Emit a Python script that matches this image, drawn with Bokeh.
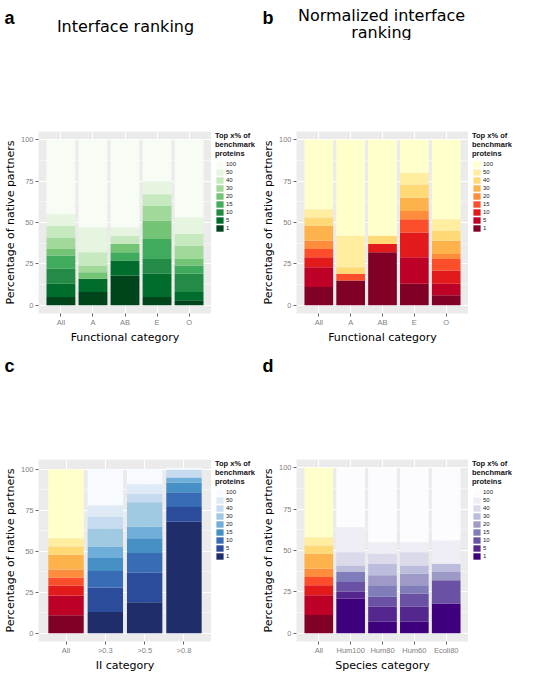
from bokeh.plotting import figure
from bokeh.models import (ColumnDataSource, Range1d, FactorRange, FixedTicker,
                          Legend, LegendItem)
from bokeh.layouts import row, column
from bokeh.embed import file_html
from bokeh.resources import INLINE
from bokeh.core.properties import value

# ---------------- data (cumulative % of native partners per level) -------------
levels = ["1", "5", "10", "15", "20", "30", "40", "50", "100"]

a_categories = ["All", "A", "AB", "E", "O"]
a_all = [5, 13, 22, 30, 34, 41, 48, 55, 100]
a_a = [8, 16, 16, 16, 20, 24, 32, 47, 100]
a_ab = [18, 27, 27, 32, 37, 37, 42, 47, 100]
a_e = [5, 19, 28, 40, 51, 60, 67, 75, 100]
a_o = [3, 8, 19, 24, 28, 36, 43, 53, 100]

b_categories = ["All", "A", "AB", "E", "O"]
b_all = [11, 23, 29, 34, 39, 48, 53, 58, 100]
b_a = [15, 15, 15, 19, 19, 19, 23, 42, 100]
b_ab = [32, 32, 37, 37, 37, 37, 42, 42, 100]
b_e = [13, 29, 44, 52, 57, 65, 73, 80, 100]
b_o = [6, 13, 21, 28, 31, 39, 45, 52, 100]

c_categories = ["All", ">0.3", ">0.5", ">0.8"]
c_all = [11, 23, 29, 34, 39, 48, 53, 58, 100]
c_03 = [13, 28, 38, 46, 53, 64, 71, 78, 100]
c_05 = [19, 37, 49, 58, 65, 80, 85, 91, 100]
c_08 = [68, 77, 86, 92, 95, 95, 100, 100, 101]

d_categories = ["All", "Hum100", "Hum80", "Hum60", "Ecoli80"]
d_all = [11, 23, 29, 34, 39, 48, 53, 58, 100]
d_hum100 = [21, 25, 31, 37, 37, 41, 49, 64, 100]
d_hum80 = [7, 16, 22, 29, 35, 42, 48, 55, 100]
d_hum60 = [7, 16, 24, 29, 36, 41, 49, 55, 100]
d_ecoli80 = [18, 18, 32, 32, 37, 42, 42, 56, 100]

greens = ['#00441b', '#006d2c', '#238b45', '#41ab5d', '#74c476',
          '#a1d99b', '#c7e9c0', '#e5f5e0', '#f7fcf5']
ylorrd = ['#800026', '#bd0026', '#e31a1c', '#fc4e2a', '#fd8d3c',
          '#feb24c', '#fed976', '#ffeda0', '#ffffcc']
blues = ['#1f2e6b', '#2b4c9b', '#386db5', '#4790c6', '#6eaed8',
         '#9fcae1', '#c6dbef', '#deebf7', '#f7fbff']
purples = ['#3f007d', '#54278f', '#6a51a3', '#807dba', '#9e9ac8',
           '#bcbddc', '#dadaeb', '#efedf5', '#fcfbfd']

SANS = "DejaVu Sans"
HELV = "Liberation Sans"


def blank(width, height, top=0, left=0):
    f = figure(width=width, height=height, x_range=Range1d(0, 1),
               y_range=Range1d(0, 1), x_axis_type=None, y_axis_type=None,
               min_border_left=left, min_border_right=0,
               min_border_top=top, min_border_bottom=0,
               toolbar_location=None, tools="", output_backend="svg")
    f.grid.visible = False
    f.outline_line_color = None
    f.background_fill_color = "white"
    f.border_fill_color = "white"
    return f


def header(width, height, letter, letter_base, titles):
    """Strip above a panel holding the panel letter and the panel title."""
    h = figure(width=width, height=height, x_range=Range1d(0, width),
               y_range=Range1d(0, height), x_axis_type=None, y_axis_type=None,
               min_border=0, toolbar_location=None, tools="",
               output_backend="svg")
    h.grid.visible = False
    h.outline_line_color = None
    h.background_fill_color = "white"
    h.border_fill_color = "white"
    h.text(x=[4], y=[height - letter_base], text=[letter],
           text_font=value(HELV), text_font_style="bold",
           text_font_size="18px", text_color="black",
           text_align="left", text_baseline="alphabetic")
    if titles:
        h.text(x=[t[1] for t in titles], y=[height - t[2] for t in titles],
               text=[t[0] for t in titles], text_font=value(SANS),
               text_font_size="16px", text_color="black",
               text_align="center", text_baseline="alphabetic")
    return h


def legend_strip(width, height, top, pal):
    """Narrow strip to the right of a panel that holds its colour key."""
    f = blank(width, height, top=top, left=4)
    items = []
    for i, lev in enumerate(levels):
        # zero-size bar: only there so the key can show the level's colour
        r = f.vbar(x=[0], bottom=[0], top=[0], width=0,
                   fill_color=pal[i], line_color=None)
        items.append(LegendItem(label=lev, renderers=[r]))
    legend = Legend(items=items[::-1], location="top_left",
                    title="Top x% of\nbenchmark\nproteins",
                    title_text_font=HELV, title_text_font_style="bold",
                    title_text_font_size="7.5px", title_standoff=2,
                    title_text_color="#111111",
                    glyph_width=9, glyph_height=8, label_height=8,
                    spacing=0, padding=0, margin=0,
                    label_standoff=2, label_text_font=HELV,
                    label_text_font_size="6px", label_text_color="#222222",
                    border_line_color=None, background_fill_alpha=0)
    f.add_layout(legend)
    return f


def make_panel(cats, series, pal, all_pal, xtitle, width, height, left, top,
               y_end):
    p = figure(x_range=FactorRange(factors=cats, range_padding=0.2,
                                   range_padding_units="absolute"),
               y_range=Range1d(-5, y_end), width=width, height=height,
               min_border_left=left, min_border_right=0,
               min_border_top=top, min_border_bottom=27,
               toolbar_location=None, tools="", output_backend="svg")
    p.background_fill_color = "#ebebeb"
    p.border_fill_color = "white"
    p.outline_line_color = None
    p.grid.grid_line_color = "white"
    p.grid.grid_line_width = 1
    p.yaxis.ticker = FixedTicker(ticks=[0, 25, 50, 75, 100],
                                 minor_ticks=[12.5, 37.5, 62.5, 87.5])
    p.ygrid.minor_grid_line_color = "white"
    p.ygrid.minor_grid_line_width = 0.5
    p.axis.axis_line_color = None
    p.axis.major_tick_line_color = "#666666"
    p.axis.major_tick_out = 3
    p.axis.major_tick_in = 0
    p.axis.minor_tick_line_color = None
    p.axis.major_label_text_font = HELV
    p.axis.major_label_text_font_size = "7.5px"
    p.axis.major_label_text_color = "#7f7f7f"
    p.axis.major_label_standoff = 1
    p.axis.axis_label_text_font = SANS
    p.axis.axis_label_text_font_size = "11px"
    p.axis.axis_label_text_font_style = "normal"
    p.axis.axis_label_text_color = "black"
    p.axis.axis_label_standoff = 1
    p.yaxis.axis_label = "Percentage of native partners"
    p.xaxis.axis_label = xtitle

    main = [c for c in cats if not (all_pal is not None and c == "All")]
    for i, lev in enumerate(levels):
        src = ColumnDataSource(dict(
            x=main,
            bottom=[series[c][i - 1] if i else 0 for c in main],
            top=[series[c][i] for c in main]))
        p.vbar(x="x", bottom="bottom", top="top", width=0.9, source=src,
               fill_color=pal[i], line_color=None)
        if all_pal is not None:
            p.vbar(x=["All"], bottom=[series["All"][i - 1] if i else 0],
                   top=[series["All"][i]], width=0.9,
                   fill_color=all_pal[i], line_color=None)
    return p


ha = header(258, 40, "a", 17, [("Interface ranking", 125, 26)])
hb = header(259, 40, "b", 17, [("Normalized interface", 123, 15),
                                ("ranking", 123, 32)])
pa = make_panel(a_categories,
                {"All": a_all, "A": a_a, "AB": a_ab, "E": a_e, "O": a_o},
                greens, None, "Functional category", 211, 306, 31, 4, 105)
la = legend_strip(47, 306, 91, greens)
pb = make_panel(b_categories,
                {"All": b_all, "A": b_a, "AB": b_ab, "E": b_e, "O": b_o},
                ylorrd, None, "Functional category", 210, 306, 30, 4, 105)
lb = legend_strip(49, 306, 91, ylorrd)

hc = header(258, 26, "c", 19, [])
hd = header(259, 26, "d", 19, [])
pc = make_panel(c_categories,
                {"All": c_all, ">0.3": c_03, ">0.5": c_05, ">0.8": c_08},
                blues, ylorrd, "II category", 211, 302, 31, 0, 106.05)
lc = legend_strip(47, 302, 87, blues)
pd = make_panel(d_categories,
                {"All": d_all, "Hum100": d_hum100, "Hum80": d_hum80,
                 "Hum60": d_hum60, "Ecoli80": d_ecoli80},
                purples, ylorrd, "Species category", 210, 302, 30, 0, 105)
ld = legend_strip(49, 302, 87, purples)

layout = column(row(ha, hb), row(pa, la, pb, lb), row(hc, hd),
                row(pc, lc, pd, ld))
open("out.html", "w").write(file_html(layout, INLINE))
